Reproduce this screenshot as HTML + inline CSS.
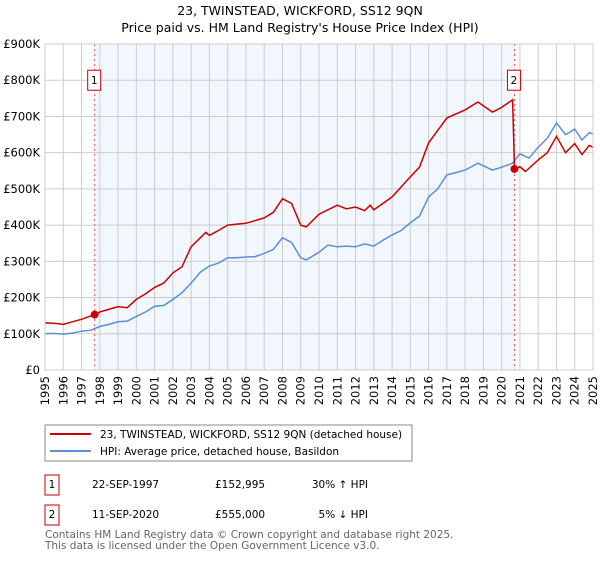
<!DOCTYPE html>
<html><head><meta charset="utf-8"><style>
body{margin:0;background:#fff;font-family:"DejaVu Sans","Liberation Sans",sans-serif;}
svg text{font-family:"DejaVu Sans","Liberation Sans",sans-serif;}
</style></head><body>
<svg id="c" width="600" height="560" xmlns="http://www.w3.org/2000/svg">
<text x="300" y="15" text-anchor="middle" font-size="12.5">23, TWINSTEAD, WICKFORD, SS12 9QN</text>
<text x="300" y="32" text-anchor="middle" font-size="12.5">Price paid vs. HM Land Registry's House Price Index (HPI)</text>
<g id="grid"></g><g id="series"></g><g id="axes"></g>
<rect x="45" y="425" width="367" height="36" fill="#fff" stroke="#888"/>
<line x1="50" y1="434" x2="91" y2="434" stroke="#cc0000" stroke-width="2"/>
<text x="100" y="438" font-size="10.5">23, TWINSTEAD, WICKFORD, SS12 9QN (detached house)</text>
<line x1="50" y1="451" x2="91" y2="451" stroke="#5b8fd6" stroke-width="2"/>
<text x="100" y="455" font-size="10.5">HPI: Average price, detached house, Basildon</text>
<g font-size="10.5">
<rect x="45" y="475" width="14" height="20" fill="#fff" stroke="#cc0000"/>
<text x="52" y="488" text-anchor="middle">1</text>
<text x="92" y="488">22-SEP-1997</text><text x="215" y="488">£152,995</text><text x="368" y="488" text-anchor="end">30% ↑ HPI</text></g>
<g font-size="10.5">
<rect x="45" y="505" width="14" height="20" fill="#fff" stroke="#cc0000"/>
<text x="52" y="518" text-anchor="middle">2</text>
<text x="92" y="518">11-SEP-2020</text><text x="215" y="518">£555,000</text><text x="368" y="518" text-anchor="end">5% ↓ HPI</text></g>
<text x="45" y="538" font-size="10.5" fill="#666">Contains HM Land Registry data © Crown copyright and database right 2025.</text>
<text x="45" y="549" font-size="10.5" fill="#666">This data is licensed under the Open Government Licence v3.0.</text>
</svg>
<script>
const hpiYears=[1995,1995.5,1996,1996.5,1997,1997.5,1998,1998.5,1999,1999.5,2000,2000.5,2001,2001.5,2002,2002.5,2003,2003.5,2004,2004.5,2005,2005.5,2006,2006.5,2007,2007.5,2008,2008.5,2009,2009.3,2010,2010.5,2011,2011.5,2012,2012.5,2013,2013.5,2014,2014.5,2015,2015.5,2016,2016.5,2017,2017.5,2018,2018.7,2019.5,2020,2020.6,2021,2021.5,2022,2022.5,2023,2023.5,2024,2024.4,2024.8,2025];
const hpiValues=[100,101,99,102,107,110,120,126,133,135,148,160,176,178,195,213,240,270,287,295,310,310,312,313,322,333,365,352,310,304,325,345,340,342,340,348,342,358,373,385,406,425,478,500,539,545,552,571,552,560,571,597,585,615,640,682,650,665,635,655,652];
const priceYears=[1995,1995.5,1996,1996.5,1997,1997.72,1998,1999,1999.5,2000,2000.5,2001,2001.5,2002,2002.5,2003,2003.5,2003.8,2004,2004.5,2005,2006,2007,2007.5,2008,2008.5,2009,2009.3,2010,2011,2011.5,2012,2012.5,2012.8,2013,2014,2015,2015.5,2016,2017,2018,2018.7,2019.5,2020,2020.6,2020.7,2021,2021.3,2022,2022.5,2023,2023.5,2024,2024.4,2024.8,2025];
const priceValues=[130,129,126,133,140,153,160,175,172,195,210,228,240,268,285,340,365,380,372,385,400,405,420,435,473,460,400,395,430,455,445,450,440,455,442,478,533,560,627,696,718,740,712,725,746,555,561,548,580,600,645,600,625,595,620,615];
const sales=[[1997.72,152.995,"1"],[2020.7,555,"2"]];
const yTicks=[0,100,200,300,400,500,600,700,800,900];
const yLabels=["£0","£100K","£200K","£300K","£400K","£500K","£600K","£700K","£800K","£900K"];
const xTicks=[];for(let y=1995;y<=2025;y++)xTicks.push(y);
const NS="http://www.w3.org/2000/svg";
const X=v=>45+(v-1995)*(548/30), Y=v=>370-v*(326/900);
function mk(t,a,p){const e=document.createElementNS(NS,t);for(const k in a)e.setAttribute(k,a[k]);p.appendChild(e);return e;}
const g=document.getElementById('grid'),s=document.getElementById('series'),ax=document.getElementById('axes');
const sh=mk('rect',{x:X(sales[0][0]),y:Y(900),width:X(sales[1][0])-X(sales[0][0]),height:Y(0)-Y(900),fill:'#f2f6fd'},g);


yTicks.forEach((v,i)=>{
 const l=mk('line',{x1:45,x2:593,y1:Y(v),y2:Y(v),stroke:'#ccc'},g);
 
 
 const t=mk('text',{x:40,y:Y(v)+4,'text-anchor':'end','font-size':'11.5'},ax);t.textContent=yLabels[i];
 
 
});
xTicks.forEach(v=>{
 const l=mk('line',{x1:X(v),x2:X(v),y1:Y(900),y2:Y(0),stroke:'#ccc'},g);
 
 
 const t=mk('text',{x:0,y:0,'font-size':'11.5','text-anchor':'end',transform:`translate(${X(v)+4},376) rotate(-90)`},ax);t.textContent=v;
 
 
});
sales.forEach(sa=>{
 const l=mk('line',{x1:X(sa[0]),x2:X(sa[0]),y1:Y(900),y2:Y(0),stroke:'#e55','stroke-dasharray':'2,3','stroke-width':1},s);
 
 
});
const pts=(xs,vs)=>xs.map((x,i)=>X(x).toFixed(1)+','+Y(vs[i]).toFixed(1)).join(' ');
const hl=mk('polyline',{points:pts(hpiYears,hpiValues),fill:'none',stroke:'#5b8fd6','stroke-width':1.5},s);


const pl=mk('polyline',{points:pts(priceYears,priceValues),fill:'none',stroke:'#cc0000','stroke-width':1.5},s);


sales.forEach(sa=>{
 const c=mk('circle',{cx:X(sa[0]),cy:Y(sa[1]),r:4,fill:'#cc0000'},s);
 
 
 const b=mk('rect',{x:X(sa[0])-7,y:Y(800)-10,width:13,height:20,fill:'#fff',stroke:'#cc0000'},s);
 
 
 const t=mk('text',{x:X(sa[0])-0.5,y:Y(800)+4,'text-anchor':'middle','font-size':'10.5'},s);t.textContent=sa[2];
 
 
});
mk('rect',{x:45,y:Y(900),width:548,height:Y(0)-Y(900),fill:'none',stroke:'#ccc'},ax);
</script>
</body></html>
